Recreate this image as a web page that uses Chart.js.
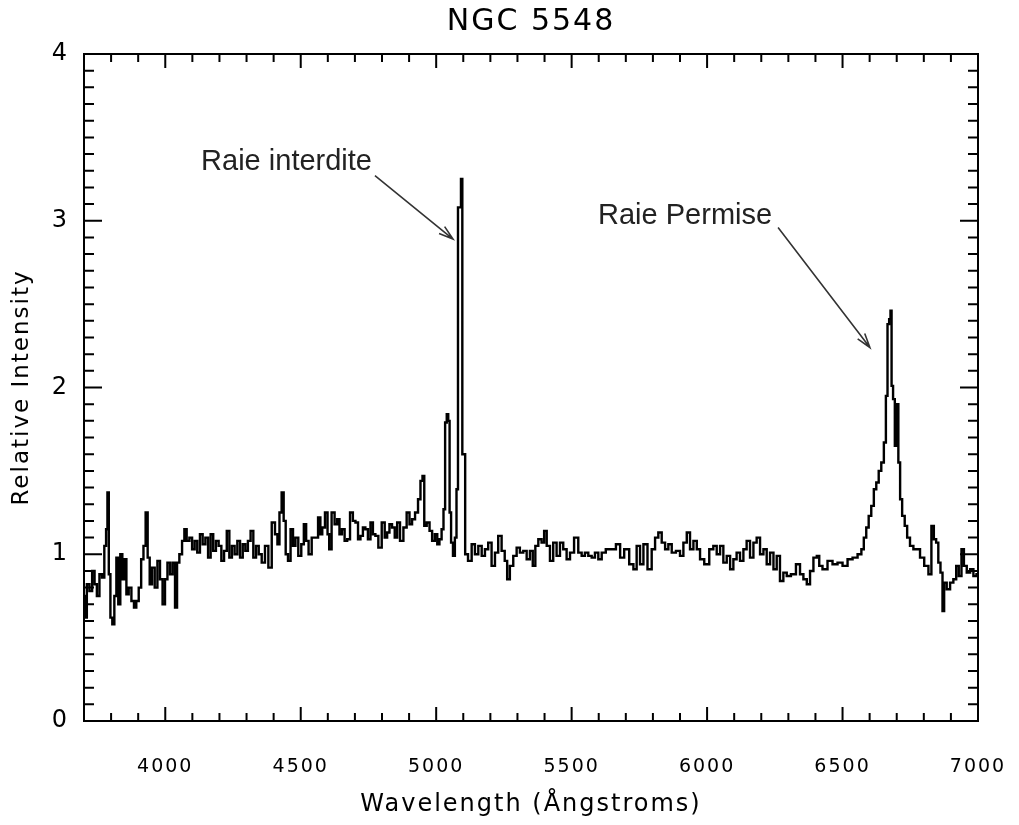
<!DOCTYPE html>
<html>
<head>
<meta charset="utf-8">
<title>NGC 5548</title>
<script src="https://cdn.jsdelivr.net/npm/chart.js@4.4.1/dist/chart.umd.min.js"></script>
<style>
  html, body { margin: 0; padding: 0; background: #fff; }
</style>
</head>
<body>
<canvas id="spectrum" width="1019" height="825"></canvas>
<script>
// spectre de NGC 5548
const wavelength = [
  3700, 3706, 3715, 3725, 3735, 3743, 3752, 3762, 3771, 3779, 3784, 3789, 3794, 3801, 3808, 3816,
  3823, 3830, 3838, 3845, 3853, 3860, 3870, 3880, 3889, 3897, 3907, 3915, 3924, 3931, 3939, 3946,
  3956, 3966, 3976, 3985, 3995, 4003, 4013, 4022, 4032, 4040, 4047, 4057, 4067, 4074, 4084, 4094,
  4104, 4113, 4123, 4133, 4143, 4153, 4163, 4172, 4182, 4192, 4202, 4212, 4222, 4232, 4241, 4251,
  4261, 4271, 4281, 4291, 4300, 4310, 4320, 4330, 4340, 4350, 4362, 4374, 4387, 4399, 4411, 4417,
  4426, 4433, 4441, 4448, 4458, 4467, 4476, 4485, 4497, 4507, 4516, 4524, 4534, 4547, 4559, 4569,
  4576, 4583, 4596, 4602, 4608, 4620, 4630, 4639, 4647, 4657, 4667, 4676, 4688, 4697, 4707, 4716,
  4725, 4734, 4743, 4753, 4762, 4771, 4780, 4793, 4805, 4815, 4823, 4832, 4842, 4852, 4860, 4873,
  4885, 4897, 4906, 4916, 4928, 4938, 4946, 4953, 4959, 4971, 4980, 4990, 5000, 5008, 5016, 5024,
  5030, 5036, 5042, 5047, 5052, 5058, 5066, 5072, 5078, 5083, 5089, 5094, 5099, 5104, 5110, 5125,
  5137, 5149, 5162, 5174, 5186, 5198, 5211, 5223, 5235, 5248, 5258, 5266, 5278, 5291, 5303, 5315,
  5328, 5340, 5352, 5361, 5371, 5383, 5395, 5402, 5414, 5426, 5438, 5451, 5463, 5475, 5488, 5500,
  5518, 5531, 5543, 5555, 5568, 5580, 5592, 5605, 5617, 5635, 5654, 5673, 5685, 5703, 5722, 5734,
  5746, 5759, 5771, 5789, 5802, 5814, 5826, 5839, 5851, 5863, 5876, 5894, 5906, 5919, 5931, 5943,
  5956, 5968, 5980, 5999, 6017, 6029, 6042, 6054, 6066, 6079, 6091, 6103, 6115, 6128, 6140, 6152,
  6165, 6177, 6189, 6202, 6214, 6226, 6239, 6251, 6263, 6275, 6288, 6300, 6319, 6337, 6349, 6362,
  6374, 6386, 6399, 6411, 6417, 6435, 6454, 6472, 6491, 6509, 6528, 6546, 6565, 6574, 6583, 6592,
  6601, 6611, 6620, 6629, 6638, 6648, 6657, 6663, 6669, 6675, 6679, 6683, 6690, 6696, 6702, 6710,
  6715, 6725, 6734, 6743, 6755, 6768, 6780, 6792, 6811, 6823, 6833, 6841, 6850, 6857, 6866, 6872,
  6878, 6891, 6903, 6915, 6924, 6934, 6944, 6952, 6965, 6977, 6989, 7000
];
const intensity = [
  0.75, 0.62, 0.82, 0.78, 0.90, 0.82, 0.75, 0.88, 0.86, 1.05, 1.15, 1.37, 0.88, 0.62, 0.58, 0.75,
  0.98, 0.70, 1.00, 0.85, 0.97, 0.76, 0.80, 0.72, 0.68, 0.72, 0.80, 0.97, 1.05, 1.25, 0.98, 0.82,
  0.92, 0.80, 0.96, 0.85, 0.70, 0.85, 0.95, 0.88, 0.95, 0.68, 0.95, 1.00, 1.08, 1.15, 1.08, 1.10,
  1.03, 1.08, 1.01, 1.12, 1.06, 1.10, 0.98, 1.12, 1.02, 1.08, 1.05, 0.96, 1.02, 1.14, 0.98, 1.05,
  1.00, 1.08, 0.98, 1.06, 1.02, 1.08, 1.14, 0.98, 1.05, 1.00, 0.95, 1.05, 0.92, 1.19, 1.12, 1.06,
  1.25, 1.37, 1.20, 1.00, 0.96, 1.15, 1.05, 1.10, 0.99, 1.06, 1.18, 1.08, 1.00, 1.10, 1.10, 1.22,
  1.12, 1.16, 1.25, 1.12, 1.03, 1.25, 1.18, 1.21, 1.12, 1.15, 1.08, 1.09, 1.25, 1.20, 1.19, 1.09,
  1.11, 1.16, 1.15, 1.09, 1.19, 1.12, 1.11, 1.04, 1.19, 1.10, 1.13, 1.18, 1.16, 1.10, 1.19, 1.08,
  1.16, 1.25, 1.18, 1.21, 1.25, 1.33, 1.44, 1.47, 1.17, 1.19, 1.14, 1.08, 1.12, 1.06, 1.09, 1.15,
  1.27, 1.79, 1.84, 1.80, 1.25, 1.07, 0.99, 1.10, 1.39, 3.08, 3.08, 3.25, 1.60, 1.60, 1.00, 0.96,
  1.06, 1.00, 1.05, 0.99, 1.03, 1.07, 0.93, 1.01, 1.11, 1.02, 0.96, 0.85, 0.93, 0.99, 1.04, 1.01,
  1.02, 0.97, 1.02, 0.93, 1.05, 1.09, 1.07, 1.14, 1.05, 0.96, 1.07, 0.99, 1.07, 1.03, 0.97, 1.01,
  1.10, 1.01, 0.99, 1.01, 0.99, 0.98, 1.01, 0.97, 1.01, 1.03, 1.03, 1.06, 0.98, 1.03, 0.94, 0.91,
  1.05, 0.94, 1.06, 0.91, 1.03, 1.10, 1.13, 1.07, 1.03, 1.06, 1.01, 1.02, 0.99, 1.07, 1.13, 1.03,
  1.08, 1.03, 0.97, 0.94, 1.03, 1.05, 1.00, 1.05, 0.95, 0.99, 0.91, 0.97, 1.01, 0.96, 1.03, 1.08,
  0.98, 1.07, 1.10, 1.00, 1.03, 0.94, 1.01, 0.91, 0.99, 0.84, 0.89, 0.87, 0.88, 0.94, 0.88, 0.85,
  0.82, 0.90, 0.98, 0.99, 0.93, 0.91, 0.96, 0.94, 0.95, 0.93, 0.97, 0.98, 1.00, 1.03, 1.10, 1.16,
  1.23, 1.29, 1.39, 1.43, 1.50, 1.55, 1.67, 1.95, 2.38, 2.41, 2.46, 2.01, 1.93, 1.65, 1.90, 1.55,
  1.33, 1.23, 1.17, 1.10, 1.05, 1.03, 1.03, 0.98, 0.93, 0.88, 1.17, 1.09, 1.07, 0.95, 0.89, 0.66,
  0.83, 0.79, 0.83, 0.85, 0.93, 0.87, 1.03, 0.93, 0.89, 0.91, 0.87, 0.88
];
const xTicks = [4000, 4500, 5000, 5500, 6000, 6500, 7000];
const yTicks = [0, 1, 2, 3, 4];

// annotations (en unités des axes)
const notes = [
  { text: 'Raie interdite', at: [4763, 3.35], from: [4774, 3.27], to: [5062, 2.89] },
  { text: 'Raie Permise', at: [6240, 3.03], from: [6262, 2.96], to: [6601, 2.24] }
];

const points = wavelength.map((w, i) => ({ x: w, y: intensity[i] }));

// police IDL : espacement large des lettres
const wideText = {
  id: 'wideText',
  beforeDraw(chart) { chart.ctx.letterSpacing = '2px'; }
};

// cadre + petites graduations vers l'intérieur, comme IDL
const frameTicks = {
  id: 'frameTicks',
  afterDatasetsDraw(chart) {
    const { ctx, chartArea: a, scales: { x, y } } = chart;
    ctx.save();
    ctx.strokeStyle = '#000';
    ctx.lineWidth = 2;
    ctx.beginPath();
    for (let v = 3700; v <= 7000; v += 100) {
      const px = x.getPixelForValue(v);
      const len = v % 500 === 0 ? 14 : 8;
      ctx.moveTo(px, a.bottom); ctx.lineTo(px, a.bottom - len);
      ctx.moveTo(px, a.top); ctx.lineTo(px, a.top + len);
    }
    for (let i = 0; i <= 40; i++) {
      const py = y.getPixelForValue(i / 10);
      const len = i % 10 === 0 ? 18 : 10;
      ctx.moveTo(a.left, py); ctx.lineTo(a.left + len, py);
      ctx.moveTo(a.right, py); ctx.lineTo(a.right - len, py);
    }
    ctx.stroke();
    ctx.strokeRect(a.left, a.top, a.width, a.height);

    // les flèches et le texte
    ctx.letterSpacing = '0px';
    ctx.font = '29px "Liberation Sans", Arial, sans-serif';
    ctx.textAlign = 'right';
    ctx.textBaseline = 'middle';
    ctx.fillStyle = '#222';
    ctx.strokeStyle = '#333';
    ctx.lineWidth = 1.6;
    notes.forEach(n => {
      ctx.fillText(n.text, x.getPixelForValue(n.at[0]), y.getPixelForValue(n.at[1]));
      const x0 = x.getPixelForValue(n.from[0]), y0 = y.getPixelForValue(n.from[1]);
      const x1 = x.getPixelForValue(n.to[0]), y1 = y.getPixelForValue(n.to[1]);
      const ang = Math.atan2(y1 - y0, x1 - x0);
      ctx.beginPath();
      ctx.moveTo(x0, y0); ctx.lineTo(x1, y1);
      ctx.moveTo(x1 - 15 * Math.cos(ang - 0.3), y1 - 15 * Math.sin(ang - 0.3));
      ctx.lineTo(x1, y1);
      ctx.lineTo(x1 - 15 * Math.cos(ang + 0.3), y1 - 15 * Math.sin(ang + 0.3));
      ctx.stroke();
    });
    ctx.restore();
  }
};

const ctx = document.getElementById('spectrum').getContext('2d');

const chart = new Chart(ctx, {
  type: 'line',
  data: {
    datasets: [{
      data: points,
      borderColor: '#000',
      borderWidth: 2.4,
      pointRadius: 0,
      stepped: 'middle',
      fill: false
    }]
  },
  options: {
    responsive: false,
    animation: false,
    layout: { padding: { left: 0, right: 41, top: 0, bottom: 0 } },
    plugins: {
      legend: { display: false },
      tooltip: { enabled: false },
      title: {
        display: true,
        text: 'NGC 5548',
        fullSize: false,
        color: '#000',
        font: { family: '"DejaVu Sans", sans-serif', size: 30, weight: 'normal' },
        padding: { top: 4, bottom: 14 }
      }
    },
    scales: {
      x: {
        type: 'linear',
        min: 3700,
        max: 7000,
        afterBuildTicks: s => { s.ticks = xTicks.map(v => ({ value: v })); },
        afterFit: s => { s.height = 104; },
        // pas de trait dessiné, mais tickLength sert d'écart sous l'axe
        grid: { display: false, drawTicks: true, tickLength: 35 },
        border: { display: false },
        ticks: {
          color: '#000',
          padding: 0,
          maxRotation: 0,
          callback: v => String(v),
          font: { family: '"DejaVu Sans", sans-serif', size: 19 }
        },
        title: {
          display: true,
          text: 'Wavelength (Ångstroms)',
          color: '#000',
          font: { family: '"DejaVu Sans", sans-serif', size: 24 },
          padding: { top: 0, bottom: 5.6 }
        }
      },
      y: {
        min: 0,
        max: 4,
        afterBuildTicks: s => { s.ticks = yTicks.map(v => ({ value: v })); },
        afterFit: s => { s.width = 84; },
        grid: { display: false, drawTicks: false },
        border: { display: false },
        ticks: {
          color: '#000',
          padding: 15,
          callback: v => String(v),
          font: { family: '"DejaVu Sans", sans-serif', size: 24 }
        },
        title: {
          display: true,
          text: 'Relative Intensity',
          color: '#000',
          font: { family: '"DejaVu Sans", sans-serif', size: 23 },
          padding: { top: 8, bottom: 0 }
        }
      }
    }
  },
  plugins: [wideText, frameTicks]
});
</script>
</body>
</html>
